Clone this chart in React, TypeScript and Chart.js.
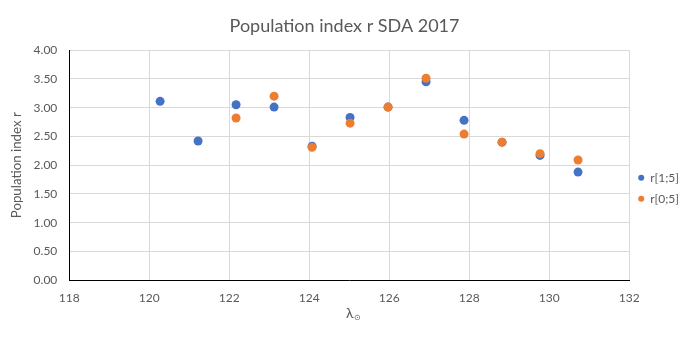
import React, { useEffect, useRef } from "react";
import { Chart, registerables } from "chart.js";

Chart.register(...registerables);

const FONT = "Lato, 'Open Sans', sans-serif";
const TEXT = "#595959";

const TITLE = "Population index r SDA 2017";
const X_TITLE_MAIN = "λ";
const X_TITLE_SUB = "⊙";
const Y_TITLE = "Population index r";

const LABEL_A = "r[1;5]";
const LABEL_B = "r[0;5]";

const solarLongA = [120.27, 121.22, 122.17, 123.12, 124.07, 125.02, 125.97, 126.92, 127.87, 128.82, 129.77, 130.72];
const valuesA = [3.11, 2.42, 3.05, 3.01, 2.33, 2.83, 3.01, 3.45, 2.78, 2.40, 2.17, 1.88];

const solarLongB = [122.17, 123.12, 124.07, 125.02, 125.97, 126.92, 127.87, 128.82, 129.77, 130.72];
const valuesB = [2.82, 3.20, 2.31, 2.73, 3.01, 3.51, 2.54, 2.40, 2.20, 2.09];

const X_MIN = 118;
const X_MAX = 132;
const X_STEP = 2;
const Y_MIN = 0;
const Y_MAX = 4;
const Y_STEP = 0.5;

const toPoints = (xs: number[], ys: number[]) => xs.map((x, i) => ({ x, y: ys[i] }));

// Draws the x-axis title with a subscript (λ⊙), below the tick labels.
const xTitlePlugin = {
  id: "xTitleSub",
  afterDraw(chart: any) {
    const { ctx, chartArea, scales } = chart;
    const xs = scales.x;
    const cx = (chartArea.left + chartArea.right) / 2 + 4;
    const cy = xs.bottom - 29;
    ctx.save();
    ctx.fillStyle = TEXT;
    ctx.textBaseline = "middle";
    ctx.font = `14px ${FONT}`;
    const wMain = ctx.measureText(X_TITLE_MAIN).width;
    ctx.font = `8px ${FONT}`;
    const wSub = ctx.measureText(X_TITLE_SUB).width;
    const start = cx - (wMain + wSub) / 2;
    ctx.font = `14px ${FONT}`;
    ctx.textAlign = "left";
    ctx.fillText(X_TITLE_MAIN, start, cy);
    ctx.font = `8px ${FONT}`;
    ctx.fillText(X_TITLE_SUB, start + wMain, cy + 4);
    ctx.restore();
  },
};

export default function App() {
  const ref = useRef<HTMLCanvasElement | null>(null);

  useEffect(() => {
    if (!ref.current) return;
    const chart = new Chart(ref.current, {
      type: "scatter",
      data: {
        datasets: [
          {
            label: LABEL_A,
            data: toPoints(solarLongA, valuesA),
            backgroundColor: "#4472C4",
            borderColor: "#4472C4",
            borderWidth: 0,
            pointRadius: 4.5,
            pointStyle: "circle",
            order: 1,
          },
          {
            label: LABEL_B,
            data: toPoints(solarLongB, valuesB),
            backgroundColor: "#ED7D31",
            borderColor: "#ED7D31",
            borderWidth: 0,
            pointRadius: 4.5,
            pointStyle: "circle",
            order: 0,
          },
        ],
      },
      plugins: [xTitlePlugin],
      options: {
        responsive: false,
        animation: false,
        layout: { padding: { left: 0, right: 2, top: 0, bottom: 0 } },
        plugins: {
          title: {
            display: true,
            text: TITLE,
            color: TEXT,
            font: { family: FONT, size: 18, weight: "normal" },
            padding: { top: 15, bottom: 13.5 },
          },
          legend: {
            position: "right",
            align: "center",
            title: {
              display: true,
              text: "",
              font: { size: 10 },
              padding: { top: 22.4, bottom: 0 },
            },
            labels: {
              usePointStyle: true,
              boxWidth: 6,
              boxHeight: 4.24,
              padding: 9,
              color: TEXT,
              font: { family: FONT, size: 12 },
              sort: (a: any, b: any) => a.datasetIndex - b.datasetIndex,
            },
          },
          tooltip: { enabled: false },
        },
        scales: {
          x: {
            type: "linear",
            min: X_MIN,
            max: X_MAX,
            afterFit: (s: any) => {
              s.height = 61.7;
            },
            ticks: {
              stepSize: X_STEP,
              color: TEXT,
              padding: 11,
              font: { family: FONT, size: 12 },
            },
            grid: { color: "#d9d9d9", drawTicks: false },
            border: { color: "#000000", width: 1 },
            title: { display: false },
          },
          y: {
            type: "linear",
            min: Y_MIN,
            max: Y_MAX,
            afterFit: (s: any) => {
              s.width = 69.3;
            },
            ticks: {
              stepSize: Y_STEP,
              color: TEXT,
              padding: 12,
              font: { family: FONT, size: 12 },
              callback: (v: any) => Number(v).toFixed(2),
            },
            grid: { color: "#d9d9d9", drawTicks: false },
            border: { color: "#000000", width: 1 },
            title: {
              display: true,
              text: Y_TITLE,
              color: TEXT,
              font: { family: FONT, size: 13.3 },
              padding: { top: 9, bottom: 0 },
            },
          },
        },
      },
    });
    return () => chart.destroy();
  }, []);

  return (
    <div style={{ position: "fixed", left: 0, top: 0, width: 691, height: 342, background: "#ffffff" }}>
      <canvas ref={ref} width={691} height={342} style={{ display: "block" }} />
    </div>
  );
}
